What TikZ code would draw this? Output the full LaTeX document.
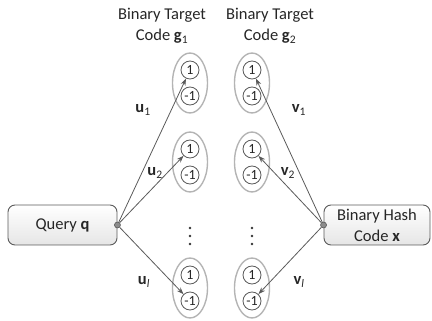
\documentclass[tikz,border=0pt]{standalone}
\usepackage{fontspec}
\setmainfont{Carlito}
\usetikzlibrary{arrows.meta,shapes.geometric}
\definecolor{linec}{HTML}{5A5A5A}
\definecolor{ellc}{HTML}{B4B4B4}
\begin{document}
\begin{tikzpicture}[x=1pt,y=-1pt,
  every node/.style={font=\fontsize{16.5}{21}\selectfont, inner sep=0pt, text=black!85},
  grp/.style={draw=ellc, line width=1.4pt, ellipse, minimum width=35pt, minimum height=60pt},
  bit/.style={draw=linec, line width=0.8pt, circle, minimum size=18pt, font=\fontsize{14}{16}\selectfont},
  box/.style={draw=linec, line width=0.9pt, rounded corners=7pt, top color=white, bottom color=black!10, minimum height=40pt, align=center},
  port/.style={circle, draw=linec, fill=black!45, minimum size=6pt, line width=0.6pt},
  arr/.style={draw=linec, line width=0.8pt, -{Stealth[length=7pt,width=5pt]}},
  dotc/.style={circle, fill=black!80, minimum size=2.6pt}]
\useasboundingbox (0,0) rectangle (432,321);
% headers
\node[align=center] (h1) at (162,26) {Binary Target\\Code \textbf{g}\textsubscript{1}};
\node[align=center] (h2) at (270,26) {Binary Target\\Code \textbf{g}\textsubscript{2}};
% boxes
\node[box, minimum width=109pt] (q) at (62.5,225) {Query \textbf{q}};
\node[box, minimum width=106pt] (x) at (377,225) {Binary Hash\\Code \textbf{x}};
\node[port] (qp) at (q.east) {};
\node[port] (xp) at (x.west) {};
% groups
\foreach \c/\cx in {1/190,2/252}{
  \foreach \r/\ry in {1/83,2/162,3/288}{
    \node[grp] (e\c\r) at (\cx,\ry) {};
    \node[bit] (a\c\r) at (\cx,\ry-13) {1};
    \node[bit] (b\c\r) at (\cx,\ry+13) {-1};
  }
  \node[dotc] (d\c a) at (\cx,228) {};
  \node[dotc] (d\c b) at (\cx,236) {};
  \node[dotc] (d\c c) at (\cx,244) {};
}
% arrows
\draw[arr] (qp) -- (a11);
\draw[arr] (qp) -- (a12);
\draw[arr] (qp) -- (b13);
\draw[arr] (xp) -- (a21);
\draw[arr] (xp) -- (a22);
\draw[arr] (xp) -- (b23);
% labels
\node (lu1) at (143,110) {\textbf{u}\textsubscript{1}};
\node (lu2) at (155,173) {\textbf{u}\textsubscript{2}};
\node (lul) at (144,282) {\textbf{u}\textsubscript{\textit{l}}};
\node (lv1) at (299,110) {\textbf{v}\textsubscript{1}};
\node (lv2) at (288,173) {\textbf{v}\textsubscript{2}};
\node (lvl) at (299,282) {\textbf{v}\textsubscript{\textit{l}}};
\end{tikzpicture}
\end{document}
